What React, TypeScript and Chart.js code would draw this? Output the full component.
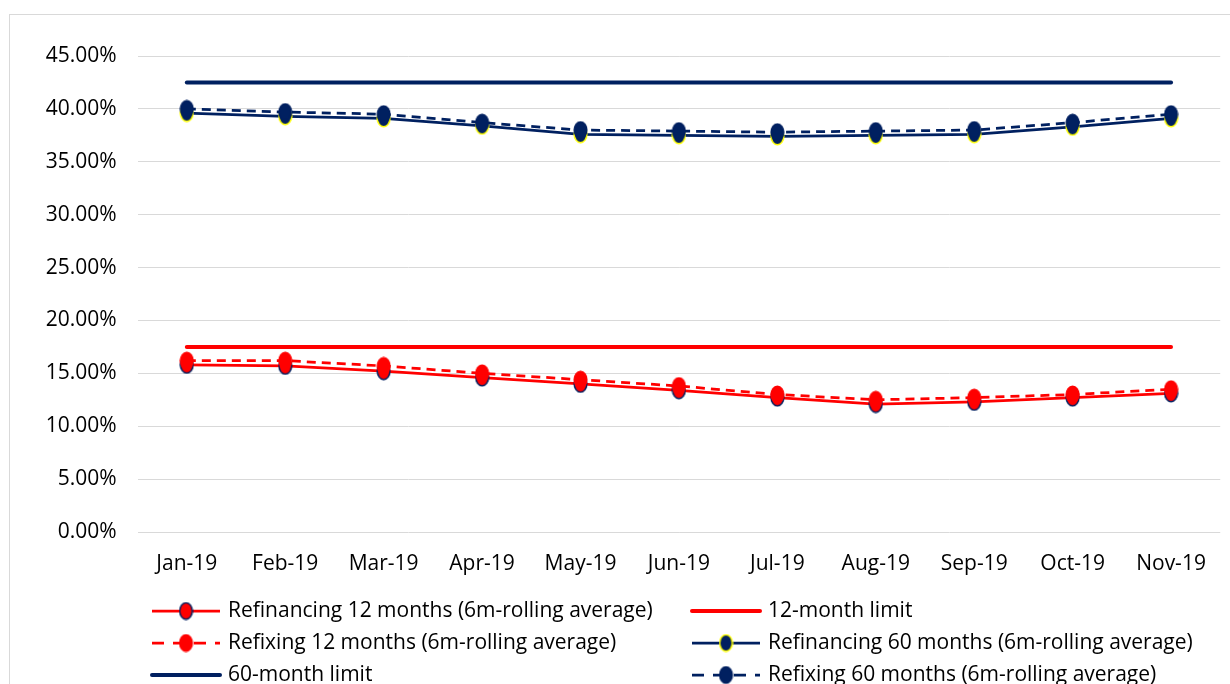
import React, { useEffect, useRef } from "react";
import { Chart, registerables } from "chart.js";

Chart.register(...registerables);

const labels = ["Jan-19", "Feb-19", "Mar-19", "Apr-19", "May-19", "Jun-19", "Jul-19", "Aug-19", "Sep-19", "Oct-19", "Nov-19"];
const refinancing12 = [15.8, 15.7, 15.2, 14.6, 14.0, 13.4, 12.7, 12.1, 12.3, 12.7, 13.1];
const refixing12 = [16.2, 16.2, 15.7, 15.0, 14.4, 13.8, 13.0, 12.5, 12.7, 13.0, 13.5];
const refinancing60 = [39.6, 39.3, 39.1, 38.4, 37.6, 37.5, 37.4, 37.5, 37.6, 38.3, 39.1];
const refixing60 = [40.0, 39.7, 39.5, 38.7, 38.0, 37.9, 37.8, 37.9, 38.0, 38.7, 39.5];
const limit12 = [17.5, 17.5, 17.5, 17.5, 17.5, 17.5, 17.5, 17.5, 17.5, 17.5, 17.5];
const limit60 = [42.5, 42.5, 42.5, 42.5, 42.5, 42.5, 42.5, 42.5, 42.5, 42.5, 42.5];
const yTicks = [0, 5, 10, 15, 20, 25, 30, 35, 40, 45];

const NAVY = "#002060";
const RED = "#FF0000";
const YELLOW = "#FFFF00";
const FONT = "'Open Sans'";
const FS = 21;

function makeEllipse(fill: string, stroke: string): HTMLCanvasElement {
  const c = document.createElement("canvas");
  c.width = 15;
  c.height = 19;
  const g = c.getContext("2d")!;
  g.beginPath();
  g.ellipse(7.5, 9.5, 6.3, 8.3, 0, 0, Math.PI * 2);
  g.fillStyle = fill;
  g.fill();
  g.lineWidth = 1.5;
  g.strokeStyle = stroke;
  g.stroke();
  return c;
}

export default function App() {
  const ref = useRef<HTMLCanvasElement>(null);

  useEffect(() => {
    const canvas = ref.current!;
    const mRedNavy = makeEllipse(RED, NAVY);
    const mRed = makeEllipse(RED, RED);
    const mNavyYellow = makeEllipse(NAVY, YELLOW);
    const mNavy = makeEllipse(NAVY, NAVY);

    const datasets: any[] = [
      { label: "Refinancing 12 months (6m-rolling average)", data: refinancing12, borderColor: RED, borderWidth: 2.75, pointStyle: mRedNavy, pointRadius: 7, order: 1 },
      { label: "12-month limit", data: limit12, borderColor: RED, borderWidth: 4, pointRadius: 0, borderCapStyle: "round", order: 2 },
      { label: "Refixing 12 months (6m-rolling average)", data: refixing12, borderColor: RED, borderWidth: 2.75, borderDash: [9, 6], pointStyle: mRed, pointRadius: 7, order: 0 },
      { label: "Refinancing 60 months (6m-rolling average)", data: refinancing60, borderColor: NAVY, borderWidth: 2.75, pointStyle: mNavyYellow, pointRadius: 7, order: 1 },
      { label: "60-month limit", data: limit60, borderColor: NAVY, borderWidth: 4, pointRadius: 0, borderCapStyle: "round", order: 2 },
      { label: "Refixing 60 months (6m-rolling average)", data: refixing60, borderColor: NAVY, borderWidth: 2.75, borderDash: [9, 6], pointStyle: mNavy, pointRadius: 7, order: 0 },
    ];

    const legendPlugin = {
      id: "colLegend",
      afterDraw(chart: any) {
        const ctx = chart.ctx;
        const ds = chart.data.datasets;
        const cols = [140, 680];
        const rows = [596, 628, 660];
        ctx.save();
        ds.forEach((d: any, i: number) => {
          const x0 = cols[i % 2];
          const y = rows[Math.floor(i / 2)];
          const len = 68;
          ctx.beginPath();
          ctx.strokeStyle = d.borderColor;
          ctx.lineWidth = d.borderWidth;
          ctx.lineCap = d.borderCapStyle === "round" ? "round" : "butt";
          ctx.setLineDash(d.borderDash ? [12, 9] : []);
          ctx.moveTo(x0 + 2, y);
          ctx.lineTo(x0 + 2 + len, y);
          ctx.stroke();
          ctx.setLineDash([]);
          if (d.pointRadius > 0 && d.pointStyle) {
            const img = d.pointStyle as HTMLCanvasElement;
            ctx.drawImage(img, x0 + 2 + len / 2 - img.width / 2, y - img.height / 2);
          }
          ctx.fillStyle = "#000";
          ctx.font = `${FS}px ${FONT}`;
          ctx.textBaseline = "middle";
          ctx.textAlign = "left";
          ctx.fillText(d.label, x0 + 78, y);
        });
        ctx.restore();
      },
    };

    const chart = new Chart(canvas, {
      type: "line",
      data: { labels, datasets },
      options: {
        animation: false,
        responsive: false,
        maintainAspectRatio: false,
        layout: { padding: { top: 41, right: 5.6, left: 0, bottom: 0 } },
        plugins: { legend: { display: false }, tooltip: { enabled: false } },
        elements: { line: { tension: 0 } },
        scales: {
          x: {
            offset: true,
            grid: { display: false, drawTicks: false },
            border: { display: false },
            ticks: { color: "#000", font: { family: FONT, size: FS }, padding: 19, maxRotation: 0, autoSkip: false },
            afterFit: (s: any) => { s.height = 152; },
          },
          y: {
            min: 0,
            max: 45,
            grid: { color: "#d9d9d9", lineWidth: 1, drawTicks: false },
            border: { display: false },
            afterBuildTicks: (s: any) => { s.ticks = yTicks.map((v) => ({ value: v })); },
            ticks: {
              color: "#000",
              font: { family: FONT, size: FS },
              padding: 21,
              callback: (v: any) => Number(v).toFixed(2) + "%",
            },
            afterFit: (s: any) => { s.width = 127.6; },
          },
        },
      },
      plugins: [legendPlugin],
    });
    return () => chart.destroy();
  }, []);

  return (
    <div style={{ position: "absolute", left: 0, top: 0, width: 1230, height: 684, overflow: "hidden", background: "#fff" }}>
      <div style={{ position: "absolute", left: 9, top: 14, width: 1260, height: 720, border: "1px solid #d9d9d9", boxSizing: "border-box" }}>
        <canvas ref={ref} width={1220} height={669} style={{ display: "block", width: 1220, height: 669 }} />
      </div>
    </div>
  );
}
